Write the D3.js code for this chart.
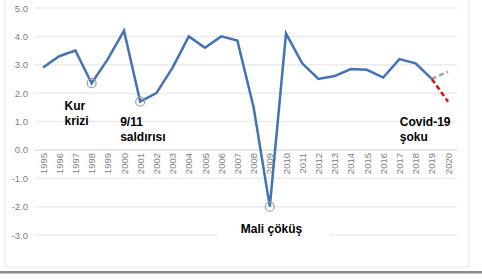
<!DOCTYPE html>
<html><head><meta charset="utf-8">
<script src="https://cdn.jsdelivr.net/npm/d3@7"></script>
<style>body{margin:0;background:#fff;}svg{display:block;font-family:"Liberation Sans",Arial,sans-serif;}</style>
</head><body>
<svg id="c" width="482" height="279"></svg>
<script>
const years = ["1995","1996","1997","1998","1999","2000","2001","2002","2003","2004","2005","2006","2007","2008","2009","2010","2011","2012","2013","2014","2015","2016","2017","2018","2019","2020"];
const growth = [2.9,3.3,3.5,2.35,3.2,4.2,1.7,2.0,2.9,4.0,3.6,4.0,3.85,1.5,-2.0,4.1,3.05,2.5,2.6,2.85,2.82,2.55,3.2,3.05,2.5];
const forecastPre = [["2019",2.5],["2020",2.75]];
const forecastCovid = [["2019",2.5],["2020",1.7]];
const yTicks = [5,4,3,2,1,0,-1,-2,-3];
const markedYears = ["1998","2001","2009"];
const notes = [
  {lines:["Kur","krizi"], year:"1998", dx:-27, y:110},
  {lines:["9/11","saldırısı"], year:"2001", dx:-20, y:126},
  {lines:["Mali çöküş"], year:"2009", dx:-29, y:233},
  {lines:["Covid-19","şoku"], year:"2019", dx:-32, y:126}
];

const svg = d3.select("#c");
const x = d3.scalePoint().domain(years).range([43,448]);
const y = d3.scaleLinear().domain([-3,5]).range([235,8]);

// frame
svg.append("rect").attr("x",5).attr("y",-2).attr("width",464).attr("height",269)
  .attr("fill","none").attr("stroke","#e6e6e6").attr("stroke-width",1);
svg.append("rect").attr("x",0).attr("y",271).attr("width",482).attr("height",2.5).attr("fill","#8a8a8a");

// grid
svg.append("g").selectAll("line").data(yTicks).join("line")
  .attr("x1",35).attr("x2",457).attr("y1",d=>y(d)).attr("y2",d=>y(d))
  .attr("stroke",d=>d===0?"#dedede":"#ececec").attr("stroke-width",1.5);

// y labels
svg.append("g").selectAll("text").data(yTicks).join("text")
  .attr("x",28).attr("y",d=>y(d)+3.5).attr("text-anchor","end")
  .attr("font-size",9.5).attr("fill","#808080").text(d=>d.toFixed(1));

// x labels
svg.append("g").selectAll("text").data(years).join("text")
  .attr("transform",d=>`translate(${x(d)+3.5},153) rotate(-90)`)
  .attr("text-anchor","end").attr("font-size",9.5).attr("fill","#808080").text(d=>d);

// annotation backgrounds
svg.append("rect").attr("x",218).attr("y",219).attr("width",112).attr("height",24).attr("fill","#fff");

// lines
const line = d3.line().x(d=>x(d[0])).y(d=>y(d[1]));
const data = years.slice(0,growth.length).map((yr,i)=>[yr,growth[i]]);
svg.append("path").datum(data).attr("d",line).attr("fill","none")
  .attr("stroke","#4472b4").attr("stroke-width",2.5).attr("stroke-linejoin","miter");
svg.append("path").datum(forecastPre).attr("d",line).attr("fill","none")
  .attr("stroke","#a6a6a6").attr("stroke-width",2.5).attr("stroke-dasharray","5,3");
svg.append("path").datum(forecastCovid).attr("d",line).attr("fill","none")
  .attr("stroke","#e01010").attr("stroke-width",2.5).attr("stroke-dasharray","5,3");

// circles
svg.append("g").selectAll("circle").data(markedYears).join("circle")
  .attr("cx",d=>x(d)).attr("cy",d=>y(growth[years.indexOf(d)]))
  .attr("r",4.5).attr("fill","none").attr("stroke","#a0a0a0").attr("stroke-width",1.2);

// notes
notes.forEach(n=>{
  const t = svg.append("text").attr("font-size",12).attr("font-weight","bold").attr("fill","#000");
  n.lines.forEach((l,i)=>{
    t.append("tspan").attr("x",x(n.year)+n.dx).attr("y",n.y+i*15).text(l);
  });
});
</script>
</body></html>
